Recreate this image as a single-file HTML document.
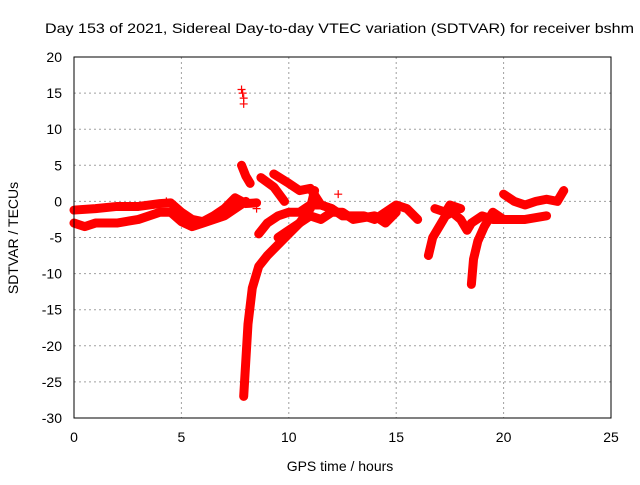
<!DOCTYPE html>
<html><head><meta charset="utf-8"><style>
body{margin:0;background:#fff}
svg text{font-family:"Liberation Sans",sans-serif;font-size:14px;fill:#000}
</style></head><body>
<svg id="chart" width="640" height="480">
<text x="45" y="33" textLength="589" lengthAdjust="spacingAndGlyphs">Day 153 of 2021, Sidereal Day-to-day VTEC variation (SDTVAR) for receiver bshm</text>
<text x="340" y="471" text-anchor="middle">GPS time / hours</text>
<text transform="translate(18,238) rotate(-90)" text-anchor="middle">SDTVAR / TECUs</text>
<g id="grid"></g><g id="ticks"></g><g id="marks"></g>
<rect x="74" y="57" width="537" height="361" fill="none" stroke="#000" stroke-width="1"/>
</svg>
<script>
const xTicks=[0,5,10,15,20,25];
const yTicks=[20,15,10,5,0,-5,-10,-15,-20,-25,-30];
const trackA=[[0,-3],[0.5,-3.5],[1,-3],[2,-3],[3,-2.5],[4,-1.5],[4.5,-1.5],[5,-2.8],[5.5,-3.5],[6,-3],[7,-2],[7.5,-1],[8,0]];
const trackB=[[0,-1.2],[1,-1],[2,-0.7],[3,-0.7],[4,-0.3],[4.5,-0.2],[5,-1.5],[5.5,-2.5],[6,-2.8],[6.5,-2],[7,-1],[7.5,0.5],[8,-0.3],[8.5,-0.2]];
const trackC=[[7.8,5],[8,3.5],[8.2,2.5]];
const trackD=[[8.7,3.3],[9.3,2],[9.8,0]];
const trackE=[[9.3,3.8],[10,2.5],[10.5,1.5],[11,1.8],[11.5,-0.5],[12,-1]];
const trackF=[[7.9,-27],[8,-22],[8.1,-17],[8.3,-12],[8.6,-9],[9,-7.5],[9.5,-6],[10,-4.5],[10.5,-3],[11,-1],[11.2,1.5]];
const trackG=[[8.6,-4.5],[9,-3],[9.5,-2],[10,-1.5],[10.5,-1.5],[11,-0.5],[11.5,-0.5],[12,-1],[12.5,-2],[13,-2],[13.5,-2],[14,-2.5],[14.5,-1.5],[15,-0.5],[15.5,-1],[16,-2.5]];
const trackH=[[9.5,-5],[10,-4],[10.5,-3],[11,-2],[11.5,-2.5],[12,-1.5],[12.5,-1.5],[13,-2.5],[14,-2],[14.5,-3],[15,-1.5]];
const trackI=[[16.5,-7.5],[16.7,-5],[17,-3.5],[17.3,-2],[17.6,-1.5],[18,-2.5],[18.3,-4],[18.5,-3],[19,-2],[19.5,-2.5],[20,-2.5],[21,-2.5],[22,-2]];
const trackJ=[[18.5,-11.5],[18.6,-8],[18.8,-5.5],[19.1,-3.5],[19.5,-1.5],[20,-2.5]];
const trackK=[[20,1],[20.5,0],[21,-0.5],[21.5,0],[22,0.3],[22.5,0],[22.8,1.5]];
const trackL=[[16.8,-1],[17.3,-1.5],[17.5,-0.5],[18,-1]];
const isolated=[[7.8,15.5],[7.85,15],[7.9,14.3],[7.9,13.5],[8.5,-1],[12.3,1],[22.8,1.5],[4.3,0]];
const tracks=[trackA,trackB,trackC,trackD,trackE,trackF,trackG,trackH,trackI,trackJ,trackK,trackL];
const X=h=>74+h*(537/25);
const Y=v=>57+(20-v)*(361/50);
const NS="http://www.w3.org/2000/svg";
function mk(t,a,p){const e=document.createElementNS(NS,t);for(const k in a)e.setAttribute(k,a[k]);p.appendChild(e);return e;}
const grid=document.getElementById('grid'),ticks=document.getElementById('ticks'),marks=document.getElementById('marks');
xTicks.forEach(t=>{
 const x=X(t);
 if(t>0&&t<25){const g=mk('line',{x1:x,x2:x,y1:57,y2:418,stroke:'#a0a0a0','stroke-dasharray':'2,3'},grid);
 
 }
 const l=mk('text',{x:x,y:442,'text-anchor':'middle'},ticks);l.textContent=t;
 
 
});
yTicks.forEach(t=>{
 const y=Y(t);
 if(t>-30&&t<20){const g=mk('line',{x1:74,x2:611,y1:y,y2:y,stroke:'#a0a0a0','stroke-dasharray':'2,3'},grid);
 
 }
 const l=mk('text',{x:62,y:y+5,'text-anchor':'end'},ticks);l.textContent=t;
 
 
});
function plus(h,v,name){
 const x=X(h),y=Y(v);
 const p=mk('path',{d:`M${x-4},${y}h8M${x},${y-4}v8`,stroke:'#f00','stroke-width':1.2,fill:'none'},marks);
 
 
}
tracks.forEach((tr,i)=>{
 const pl=mk('polyline',{points:tr.map(p=>X(p[0])+','+Y(p[1])).join(' '),stroke:'#f00','stroke-width':9,fill:'none','stroke-linejoin':'round','stroke-linecap':'round'},marks);
 
 
 tr.forEach(p=>plus(p[0],p[1],'sdtvar-point'));
});
isolated.forEach(p=>plus(p[0],p[1],'sdtvar-outlier-point'));
</script>
</body></html>
